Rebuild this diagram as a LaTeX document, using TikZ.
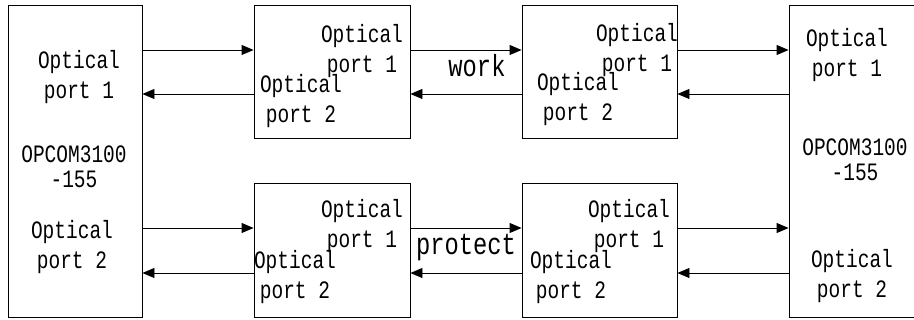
\documentclass[tikz,border=0pt]{standalone}
\usepackage{fontspec}
\newfontfamily\portfont[FakeStretch=0.78]{Liberation Mono}
\usetikzlibrary{arrows.meta,positioning}
\tikzset{
    unit/.style={
           rectangle,
           draw=black, line width=0.9pt,
           inner sep=0pt,
           },
    port/.style={
           align=center,
           inner sep=0pt,
           font=\portfont\fontsize{25}{30}\selectfont,
           },
    model/.style={
           align=center,
           inner sep=0pt,
           font=\portfont\fontsize{25}{25}\selectfont,
           },
    tag/.style={
           anchor=base,
           inner sep=0pt,
           font=\portfont\fontsize{30.5}{30}\selectfont,
           },
    pil/.style={
           -{Triangle[length=12pt,width=10pt]},
           line width=0.9pt,
           },
}

\begin{document}
\begin{tikzpicture}[x=1pt,y=-1pt]
\useasboundingbox (0,0) rectangle (914,320);
% the two OPCOM units
\node[unit, minimum width=134pt, minimum height=312pt] (optL) at (75,161) {};
\node[unit, minimum width=136pt, minimum height=312pt] (optR) at (857,161) {};
% working and protecting pairs
\node[unit, minimum width=156pt, minimum height=133pt] (w1) at (332,71.5) {};
\node[unit, minimum width=155pt, minimum height=133pt] (w2) at (599.5,71.5) {};
\node[unit, minimum width=156pt, minimum height=134pt] (p1) at (332,250) {};
\node[unit, minimum width=155pt, minimum height=134pt] (p2) at (599.5,250) {};
% texts
\node[port] (optLa) at (79,76.8) {Optical\\port 1};
\node[model] (optLm) at (74,167.2) {OPCOM3100\\-155};
\node[port] (optLb) at (72,246.8) {Optical\\port 2};
\node[port] (optRa) at (847,55.3) {Optical\\port 1};
\node[model] (optRm) at (855,159.3) {OPCOM3100\\-155};
\node[port] (optRb) at (852,275.8) {Optical\\port 2};
\node[port] (w1a) at (362,50.8) {Optical\\port 1};
\node[port] (w1b) at (301,100.8) {Optical\\port 2};
\node[port] (w2a) at (637,49.8) {Optical\\port 1};
\node[port] (w2b) at (578,98.8) {Optical\\port 2};
\node[port] (p1a) at (362,225.8) {Optical\\port 1};
\node[port] (p1b) at (295,276.8) {Optical\\port 2};
\node[port] (p2a) at (629,225.8) {Optical\\port 1};
\node[port] (p2b) at (571,276.8) {Optical\\port 2};
\node[tag] (work) at (477,77) {work};
\node[tag] (prot) at (466,255) {protect};
% fibre lines
\coordinate (up1) at (0,50);
\coordinate (dn1) at (0,94);
\coordinate (up2) at (0,228);
\coordinate (dn2) at (0,273);
\draw[pil] (optL.east |- up1) -- (w1.west |- up1);
\draw[pil] (w1.west |- dn1) -- (optL.east |- dn1);
\draw[pil] (w1.east |- up1) -- (w2.west |- up1);
\draw[pil] (w2.west |- dn1) -- (w1.east |- dn1);
\draw[pil] (w2.east |- up1) -- (optR.west |- up1);
\draw[pil] (optR.west |- dn1) -- (w2.east |- dn1);
\draw[pil] (optL.east |- up2) -- (p1.west |- up2);
\draw[pil] (p1.west |- dn2) -- (optL.east |- dn2);
\draw[pil] (p1.east |- up2) -- (p2.west |- up2);
\draw[pil] (p2.west |- dn2) -- (p1.east |- dn2);
\draw[pil] (p2.east |- up2) -- (optR.west |- up2);
\draw[pil] (optR.west |- dn2) -- (p2.east |- dn2);
\end{tikzpicture}
\end{document}
